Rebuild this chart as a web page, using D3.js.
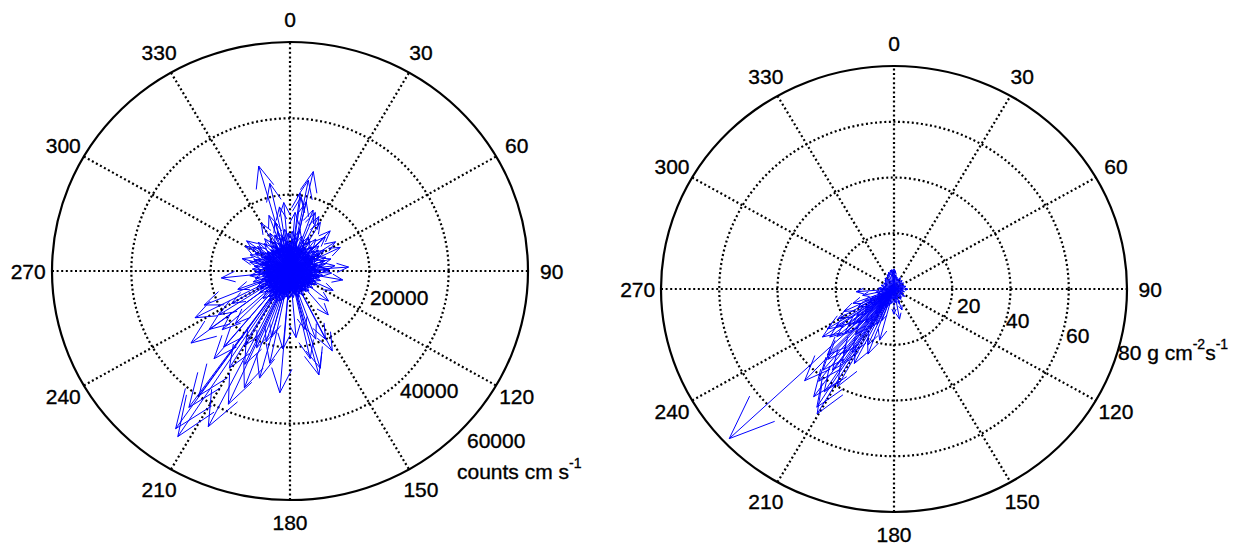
<!DOCTYPE html>
<html><head><meta charset="utf-8">
<script src="https://cdn.jsdelivr.net/npm/d3@7"></script>
<style>
body{margin:0;background:#fff}
svg text{font-family:"Liberation Sans",Arial,sans-serif;fill:#000;stroke:#000;stroke-width:0.35px}
</style>
</head><body>
<svg id="chart" width="1246" height="545"></svg>
<script>
// ---------- data ----------
const angleTicks = [0,30,60,90,120,150,180,210,240,270,300,330];

// Left panel: counts cm s^-1 (direction in degrees clockwise from north, magnitude)
const leftRings = [20000,40000,60000];
const leftRingLabels = ["20000","40000","60000"];
const leftUnit = {base:"counts cm s", sup:"-1"};
const leftDir = [
 344,12.7,11,351,12.7,44,64,86,129,153,165,184.6,202.7,232.9,242.9,264,305.8,
 214.9,213.1,206.8,215.5,215.1,211,200.6,195.3,191.9,219.8,233.1,237.3,247.6,
 167.5,153.4,166,163.3,4.8,343.3,7.1,347.5,22.6,31,56.3,45,204,
 0,4,7,11,15,18,22,26,29,33,37,40,44,48,51,55,59,62,66,70,73,77,81,84,88,92,95,99,
 103,106,110,114,117,121,125,128,132,136,139,143,147,150,154,158,161,165,169,172,176,
 180,183,187,191,194,198,202,205,209,213,216,220,224,227,231,235,238,242,246,249,253,
 257,260,264,268,271,275,279,282,286,290,293,297,301,304,308,312,315,319,323,326,330,
 334,337,341,345,348,352,356,
 2,9,13,20,24,31,35,42,46,53,57,64,68,75,79,86,90,97,101,108,112,119,123,130,134,141,
 145,152,156,163,167,174,178,185,189,196,200,207,211,218,222,229,233,240,244,251,255,
 262,266,273,277,284,288,295,299,306,310,317,321,328,332,339,343,350,354,358,
 330,300,285,250,100,115,140,20,27,355,340,8,195,185,175,160,225,240,228,220,210,205,198,
 1,6,12,17,23,28,34,39,45,50,56,61,67,72,78,83,89,94,100,105,
 111,116,122,127,133,138,144,149,155,160,166,171,177,182,188,193,199,204,210,215,
 221,226,232,237,243,248,254,259,265,270,276,281,287,292,298,303,309,314,320,325,
 331,336,342,347,353,358,
 3,8,13,18,23,28,33,38,43,48,53,58,63,68,73,78,83,88,93,98,
 103,108,113,118,123,128,133,138,143,148,153,158,163,168,173,178,183,188,193,198,
 203,208,213,218,223,228,233,238,243,248,253,258,263,268,273,278,283,288,293,298,
 303,308,313,318,323,328,333,338,343,348,353,358
];
const leftMag = [
 28600,26700,24200,17000,18600,14600,14100,14800,12500,23500,28200,32000,21800,31300,26900,17400,13500,
 50400,51800,45700,43900,39900,29700,32700,29100,24700,29900,25500,21200,23400,
 23500,20000,15800,26600,15400,13300,20600,23500,16600,14900,13800,12600,38200,
 7400,8400,6300,7900,5700,6800,6600,7700,5500,7200,6100,8300,7100,5900,8100,6500,8900,6900,7800,6200,9200,7100,8200,6500,9600,7400,5700,7600,
 6200,7000,5300,6600,5000,6800,5600,6200,4900,5900,4700,6400,5200,5800,4600,6200,5000,5500,4400,6000,4800,
 5400,4500,5900,5000,6500,5300,6900,5900,7600,6300,7300,6600,7700,5700,7100,6100,7500,5500,6800,6000,7400,
 5300,7000,6400,8000,5900,6900,6500,7800,7200,8500,6700,8100,7300,8600,6800,7700,6500,7400,6200,8000,6800,
 8600,6400,7700,7100,8900,6600,7900,
 6200,5100,6900,4700,6400,5300,7100,4900,6600,5600,7200,4800,6300,5400,7000,5000,6800,4600,6100,5200,5800,4400,6000,4900,5500,4300,
 5700,4700,5300,4200,5600,4800,5200,4500,6100,5000,6500,5400,6900,5800,7300,5100,6700,5500,6200,4900,6600,
 5300,7000,5700,6400,6000,7400,5500,6900,6100,7500,5200,6600,5900,7200,5400,6800,6300,5600,7000,
 14500,13000,12500,14000,13500,12000,15000,17000,16000,18000,15500,19500,18000,20500,17500,19000,19500,17000,23000,26000,22500,27000,19500,
 6800,5900,7400,6300,5600,7100,6000,6700,5400,6500,5800,7000,6200,5500,6900,6100,7300,5700,6400,5200,
 6000,5600,5100,5900,4800,5500,5000,5700,4700,5300,4900,5600,4600,5200,5800,5400,6300,5900,6700,6100,
 6900,6400,7000,6200,6600,5800,6400,6000,6800,5700,6500,6200,7100,6600,7300,6900,7500,6400,7100,6700,
 7400,6300,7200,6800,7600,7000,
 10400,9100,11200,9600,8800,10100,9300,10600,8700,9800,9000,10300,8600,9700,10800,9200,11400,9900,10500,8400,
 7600,8100,7000,7700,6600,7300,6400,7100,6800,6200,7400,6500,7200,6300,7000,6700,7500,6900,7800,8300,
 8900,8100,9400,8600,9900,8300,9600,8800,9300,8500,9700,9000,10200,8700,9500,9100,10400,9600,10900,10000,
 11300,10400,11000,9700,10600,9400,11100,10200,10800,9500,11000,10000
];

// Right panel: g cm^-2 s^-1
const rightRings = [20,40,60,80];
const rightRingLabels = ["20","40","60"];
const rightUnit = {base:"80 g cm", sup1:"-2", mid:"s", sup2:"-1"};
const rightDir = [
 226.5,210.5,212,215.5,213,218,209,220,216,222,214,224,235,232,238,229,236,241,227,219,231,245,
 207,212,204,195,201,217,223,265.7,258,250,170,160,180,
 0,7,14,21,28,35,42,49,56,63,70,77,84,91,98,105,112,119,126,133,140,147,154,161,168,175,182,189,
 196,203,210,217,224,231,238,245,252,259,266,273,280,287,294,301,308,315,322,329,336,343,350,357,3,354,
 200,205,210,215,220,225,230,235,240,228,233,242,247
];
const rightMag = [
 78,52,50,47.5,44,42,40,38,36,34,32,33,30,28,27,26,24,22,23,21,20,19,
 30,27,22,19,25,29,45,13,11,15,11,8,9,
 7.2,5.1,4.3,3.8,4.6,3.5,4.1,3.2,3.9,2.9,3.6,4.2,3.3,4.8,3.1,3.7,2.8,3.4,4.5,3.0,3.9,4.4,3.2,5.6,3.8,4.9,3.6,5.2,
 6.1,7.4,6.6,8.3,7.1,9.2,6.8,8.7,5.9,6.4,4.7,5.3,3.9,4.6,3.4,4.1,3.7,4.4,5.0,4.2,5.6,6.3,6.9,6.0,6.6,7.0,
 12,14,16,11,15,17,13,12,10,19,16,14,11
];

// ---------- drawing ----------
const svg = d3.select("#chart");
const FONT = 21;

function panel(cfg){
  const g = svg.append("g");
  const max = d3.max(cfg.rings);
  const sx = d3.scaleLinear().domain([0,max]).range([0,cfg.rx]);
  const sy = d3.scaleLinear().domain([0,max]).range([0,cfg.ry]);
  const rad = d => d*Math.PI/180;
  const px = (u)=> cfg.cx + sx(u);
  const py = (v)=> cfg.cy - sy(v);
  const dots = {w:2.2, dash:"2 2.6"};

  // spokes
  g.selectAll("line.spoke").data(angleTicks.filter(a=>a<180)).join("line")
    .attr("x1", a=>px(-max*Math.sin(rad(a)))).attr("y1", a=>py(-max*Math.cos(rad(a))))
    .attr("x2", a=>px(max*Math.sin(rad(a)))).attr("y2", a=>py(max*Math.cos(rad(a))))
    .attr("stroke","#000").attr("stroke-width",dots.w).attr("stroke-dasharray",dots.dash);
  // dotted rings
  g.selectAll("ellipse.ring").data(cfg.rings.slice(0,-1)).join("ellipse")
    .attr("cx",cfg.cx).attr("cy",cfg.cy).attr("rx",d=>sx(d)).attr("ry",d=>sy(d))
    .attr("fill","none").attr("stroke","#000").attr("stroke-width",dots.w).attr("stroke-dasharray",dots.dash);
  // outer circle
  g.append("ellipse").attr("cx",cfg.cx).attr("cy",cfg.cy).attr("rx",sx(max)).attr("ry",sy(max))
    .attr("fill","none").attr("stroke","#000").attr("stroke-width",2.2);
  // angle labels
  g.selectAll("text.ang").data(angleTicks).join("text")
    .attr("x", a=>px(1.1*max*Math.sin(rad(a)))).attr("y", a=>py(1.1*max*Math.cos(rad(a))))
    .attr("text-anchor","middle").attr("dominant-baseline","central")
    .attr("font-size",FONT).text(a=>a);
  // ring labels
  g.selectAll("text.rl").data(cfg.ringLabels).join("text")
    .attr("x",(d,i)=>cfg.cx+cfg.labelPos[i][0]).attr("y",(d,i)=>cfg.cy+cfg.labelPos[i][1])
    .attr("dominant-baseline","central").attr("font-size",FONT).text(d=>d);
  // unit label
  const ut = g.append("text").attr("x",cfg.cx+cfg.unitPos[0]).attr("y",cfg.cy+cfg.unitPos[1])
    .attr("dominant-baseline","central").attr("font-size",FONT);
  cfg.unitParts.forEach(p=>{
    ut.append("tspan").attr("font-size", p.sup?14:FONT).attr("dy", p.sup? -8 : (p.after? 8:0)).text(p.t);
  });

  // arrows (MATLAB compass style head: back 0.8, half-width 0.08)
  const n = Math.min(cfg.dir.length, cfg.mag.length);
  const arrows = d3.range(n).map(i=>({u: cfg.mag[i]*Math.sin(rad(cfg.dir[i])), v: cfg.mag[i]*Math.cos(rad(cfg.dir[i]))}));
  g.selectAll("path.arrow").data(arrows).join("path")
    .attr("d", a=>{
      const h1u = 0.8*a.u - 0.08*a.v, h1v = 0.8*a.v + 0.08*a.u;
      const h2u = 0.8*a.u + 0.08*a.v, h2v = 0.8*a.v - 0.08*a.u;
      return `M${px(0)},${py(0)}L${px(a.u)},${py(a.v)}L${px(h1u)},${py(h1v)}M${px(a.u)},${py(a.v)}L${px(h2u)},${py(h2v)}`;
    })
    .attr("fill","none").attr("stroke","#0000ff").attr("stroke-width",1);
}

panel({cx:290, cy:271, rx:238, ry:229, rings:leftRings, ringLabels:leftRingLabels,
  labelPos:[[80,26],[110,119],[177,169]], unitPos:[167,200],
  unitParts:[{t:leftUnit.base},{t:leftUnit.sup,sup:true}],
  dir:leftDir, mag:leftMag});

panel({cx:894, cy:289, rx:233, ry:223, rings:rightRings, ringLabels:rightRingLabels,
  labelPos:[[63,16],[112,31],[172,46]], unitPos:[224,63],
  unitParts:[{t:rightUnit.base},{t:rightUnit.sup1,sup:true},{t:rightUnit.mid,after:true},{t:rightUnit.sup2,sup:true}],
  dir:rightDir, mag:rightMag});
</script>
</body></html>
